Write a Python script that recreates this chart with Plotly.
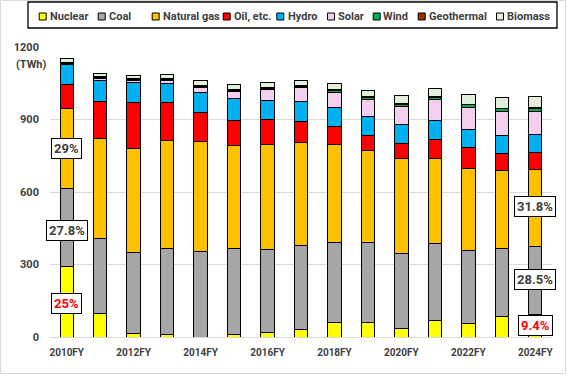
import plotly.graph_objects as go

categories = ["2010FY", "2011FY", "2012FY", "2013FY", "2014FY", "2015FY", "2016FY", "2017FY",
              "2018FY", "2019FY", "2020FY", "2021FY", "2022FY", "2023FY", "2024FY"]
tick_labels = ["2010FY", "2012FY", "2014FY", "2016FY", "2018FY", "2020FY", "2022FY", "2024FY"]

nuclear = [290, 99, 16, 9, 0, 9, 17, 31, 62, 62, 37, 69, 55, 83, 92]
coal = [323, 310, 335, 356, 355, 359, 345, 349, 331, 327, 310, 317, 303, 283, 284]
natural_gas = [331, 414, 430, 447, 455, 425, 436, 423, 404, 381, 390, 354, 341, 321, 317]
oil = [99, 153, 190, 157, 117, 102, 102, 87, 74, 62, 62, 76, 84, 74, 69]
hydro = [83, 87, 83, 79, 84, 90, 80, 86, 80, 79, 80, 80, 76, 73, 74]
solar = [4, 5, 7, 14, 21, 31, 44, 55, 62, 72, 76, 86, 92, 99, 98]
wind = [4, 5, 5, 5, 5, 6, 6, 7, 8, 8, 9, 9, 10, 11, 11]
geothermal = [3, 3, 3, 3, 3, 3, 3, 3, 3, 3, 3, 3, 3, 3, 3]
biomass = [16, 15, 13, 18, 20, 18, 21, 19, 26, 25, 34, 35, 40, 43, 46]

series_names = ["Nuclear", "Coal", "Natural gas", "Oil, etc.", "Hydro", "Solar", "Wind", "Geothermal", "Biomass"]
series_values = [nuclear, coal, natural_gas, oil, hydro, solar, wind, geothermal, biomass]
series_colors = ["#FFFF00", "#A6A6A6", "#FFC000", "#FF0000", "#00B0F0", "#F2CEEF", "#00B050", "#993300", "#E2F0D9"]

# share labels: (category, y position, text, colour)
share_cats = ["2010FY", "2010FY", "2010FY", "2024FY", "2024FY", "2024FY"]
share_y = [778, 442, 138, 539, 236, 46]
share_text = ["29%", "27.8%", "25%", "31.8%", "28.5%", "9.4%"]
share_color = ["#404040", "#404040", "#FF0000", "#404040", "#404040", "#FF0000"]

FONT = "Roboto"
TXT = "#404040"

fig = go.Figure()
for name, vals, col in zip(series_names, series_values, series_colors):
    fig.add_trace(go.Bar(x=categories, y=vals, name=name, width=0.4,
                         marker=dict(color=col, line=dict(color="#000000", width=1)),
                         showlegend=False))

# pixel -> paper helpers (plot area: x 50..552, y 47..337)
L, R, T, B = 50, 16, 47, 39
W, H = 568, 376
PW, PH = W - L - R, H - T - B
def px(x):
    return (x - L) / PW
def py(y):
    return (H - B - y) / PH

annotations = []
shapes = []

# outer chart border and legend frame
shapes.append(dict(type="rect", xref="paper", yref="paper", layer="below",
                   x0=px(0.5), x1=px(565.5), y0=py(373.5), y1=py(0.5),
                   fillcolor="#FFFFFF", line=dict(color="#D9D9D9", width=1)))
shapes.append(dict(type="rect", xref="paper", yref="paper", layer="below",
                   x0=px(28), x1=px(557), y0=py(28), y1=py(2),
                   fillcolor="#FFFFFF", line=dict(color="#000000", width=1.3)))

for c, yv, t, col in zip(share_cats, share_y, share_text, share_color):
    annotations.append(dict(x=c, y=yv, xref="x", yref="y", text=t, showarrow=False,
                            font=dict(family=FONT, size=13, color=col, weight="bold"),
                            bgcolor="#FFFFFF", bordercolor="#000000", borderwidth=1, borderpad=2))

annotations.append(dict(x=px(14), y=py(64), xref="paper", yref="paper", text="(TWh)",
                        showarrow=False, xanchor="left", yanchor="middle",
                        font=dict(family=FONT, size=11, color=TXT, weight="bold")))

# custom legend
leg_sq_x = [42.7, 101.7, 155.7, 226.7, 280.3, 331, 376.7, 421.7, 500]
leg_tx_x = [48, 107, 161, 232, 286, 336, 381, 427, 505]
leg_y = 16.5
for name, col, sx, tx in zip(series_names, series_colors, leg_sq_x, leg_tx_x):
    shapes.append(dict(type="rect", xref="paper", yref="paper",
                       x0=px(sx - 3.5), x1=px(sx + 3.5), y0=py(leg_y + 3.5), y1=py(leg_y - 3.5),
                       fillcolor=col, line=dict(color="#000000", width=1)))
    annotations.append(dict(x=px(tx), y=py(leg_y), xref="paper", yref="paper", text=name,
                            showarrow=False, xanchor="left", yanchor="middle",
                            font=dict(family=FONT, size=11, color=TXT, weight="bold")))

fig.update_layout(
    width=W, height=H,
    margin=dict(l=L, r=R, t=T, b=B, pad=0),
    barmode="stack",
    paper_bgcolor="#FFFFFF", plot_bgcolor="rgba(0,0,0,0)",
    font=dict(family=FONT, size=11, color=TXT),
    showlegend=False,
    annotations=annotations,
    shapes=shapes,
    xaxis=dict(type="category", tickmode="array", tickvals=tick_labels, ticktext=tick_labels,
               range=[-0.5, 14.5], showgrid=False, showline=False, zeroline=False,
               ticks="", ticklabelstandoff=8,
               tickfont=dict(family=FONT, size=10, color=TXT, weight="bold")),
    yaxis=dict(range=[0, 1200], tickvals=[0, 300, 600, 900, 1200],
               showgrid=True, gridcolor="#D9D9D9", gridwidth=1,
               zeroline=True, zerolinecolor="#D9D9D9", zerolinewidth=1,
               showline=False, ticks="", ticklabelstandoff=10,
               tickfont=dict(family=FONT, size=11, color=TXT, weight="bold")),
)

fig.write_html("out.html", config={"displayModeBar": False},
               post_script="document.body.style.margin='0';document.body.style.overflow='hidden';")
